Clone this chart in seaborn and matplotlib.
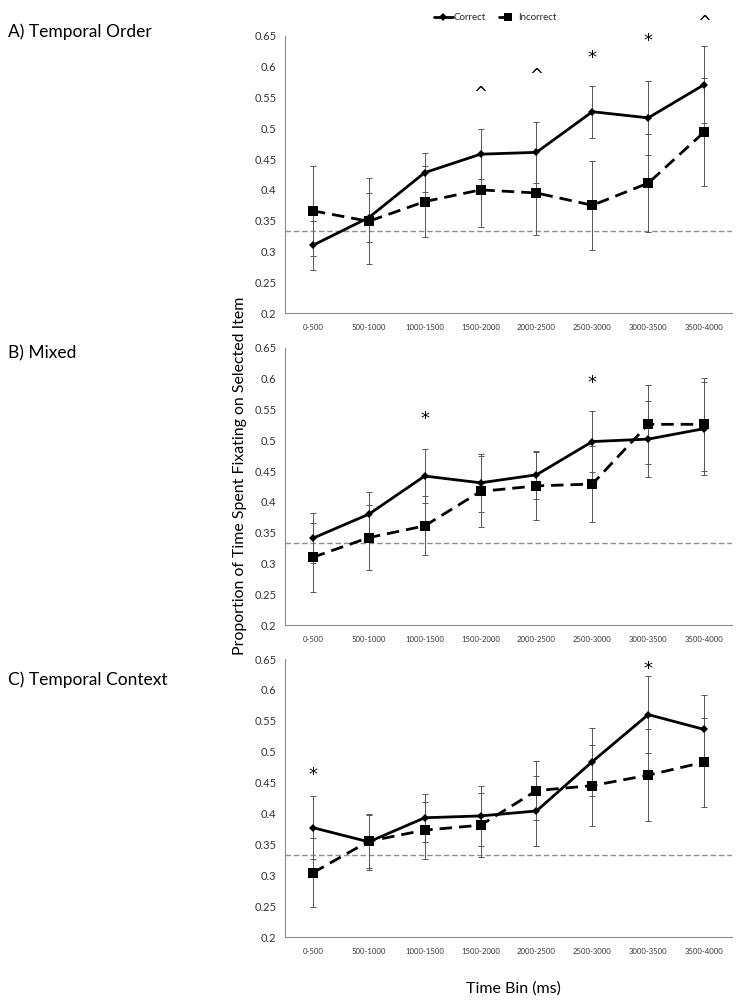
import numpy as np
import pandas as pd
import seaborn as sns
import matplotlib
matplotlib.use("Agg")
import matplotlib.pyplot as plt
from matplotlib.lines import Line2D

sns.set_theme(style="white")
plt.rcParams['font.family'] = ['Lato', 'DejaVu Sans']

bins = ["0-500", "500-1000", "1000-1500", "1500-2000", "2000-2500",
        "2500-3000", "3000-3500", "3500-4000"]
panel_titles = ["A) Temporal Order", "B) Mixed", "C) Temporal Context"]

a_correct = [0.310, 0.355, 0.428, 0.458, 0.461, 0.527, 0.517, 0.571]
a_correct_err = [0.040, 0.040, 0.032, 0.041, 0.049, 0.042, 0.060, 0.062]
a_incorrect = [0.366, 0.349, 0.381, 0.400, 0.395, 0.375, 0.411, 0.494]
a_incorrect_err = [0.073, 0.070, 0.058, 0.060, 0.068, 0.072, 0.080, 0.087]
a_marks = ["", "", "", "^", "^", "*", "*", "^"]
a_mark_y = [None, None, None, 0.556, 0.585, 0.615, 0.642, 0.671]

b_correct = [0.341, 0.380, 0.442, 0.431, 0.444, 0.498, 0.502, 0.519]
b_correct_err = [0.041, 0.036, 0.044, 0.047, 0.039, 0.050, 0.062, 0.075]
b_incorrect = [0.310, 0.342, 0.361, 0.417, 0.426, 0.429, 0.526, 0.526]
b_incorrect_err = [0.056, 0.053, 0.048, 0.057, 0.055, 0.062, 0.064, 0.076]
b_marks = ["", "", "*", "", "", "*", "", ""]
b_mark_y = [None, None, 0.535, None, None, 0.593, None, None]

c_correct = [0.377, 0.354, 0.393, 0.396, 0.404, 0.484, 0.560, 0.536]
c_correct_err = [0.051, 0.045, 0.039, 0.048, 0.057, 0.055, 0.062, 0.055]
c_incorrect = [0.304, 0.355, 0.373, 0.381, 0.437, 0.445, 0.462, 0.483]
c_incorrect_err = [0.056, 0.043, 0.046, 0.052, 0.048, 0.065, 0.074, 0.072]
c_marks = ["*", "", "", "", "", "", "*", ""]
c_mark_y = [0.462, None, None, None, None, None, 0.634, None]

chance = 0.333
yticks = [0.2, 0.25, 0.3, 0.35, 0.4, 0.45, 0.5, 0.55, 0.6, 0.65]

panels = [
    (a_correct, a_correct_err, a_incorrect, a_incorrect_err, a_marks, a_mark_y),
    (b_correct, b_correct_err, b_incorrect, b_incorrect_err, b_marks, b_mark_y),
    (c_correct, c_correct_err, c_incorrect, c_incorrect_err, c_marks, c_mark_y),
]

fig = plt.figure(figsize=(7.44, 10), dpi=100)
axes_rects = [[0.383, 0.687, 0.601, 0.277],
              [0.383, 0.375, 0.601, 0.277],
              [0.383, 0.063, 0.601, 0.278]]
title_y = [0.968, 0.647, 0.320]

pos = np.arange(len(bins))
dash_style = (0, (4.5, 2.5))
spine_col = "#8c8c8c"

for i, (rect, data) in enumerate(zip(axes_rects, panels)):
    corr, corr_err, inc, inc_err, marks, mark_y = data
    ax = fig.add_axes(rect)
    df_c = pd.DataFrame({"pos": pos, "value": corr})
    df_i = pd.DataFrame({"pos": pos, "value": inc})

    ax.axhline(chance, color="#8f8f8f", lw=1.0, ls=(0, (4, 2)), zorder=1)
    ax.errorbar(pos, corr, yerr=corr_err, fmt="none", ecolor="#555555",
                elinewidth=0.7, capsize=2.5, capthick=0.7, zorder=2)
    ax.errorbar(pos, inc, yerr=inc_err, fmt="none", ecolor="#555555",
                elinewidth=0.7, capsize=2.5, capthick=0.7, zorder=2)
    sns.lineplot(data=df_c, x="pos", y="value", ax=ax, color="black",
                 lw=2.0, marker="D", markersize=4.5, markeredgewidth=0,
                 zorder=4)
    sns.lineplot(data=df_i, x="pos", y="value", ax=ax, color="black",
                 lw=2.0, linestyle=dash_style, marker="s", markersize=7,
                 markeredgewidth=0, zorder=3)

    for j, (m, my) in enumerate(zip(marks, mark_y)):
        if m:
            ax.text(pos[j], my, m, ha="center", va="center",
                    fontsize=13 if m == "*" else 12, color="black",
                    family="DejaVu Sans", clip_on=False)

    ax.set_xlim(-0.5, len(bins) - 0.5)
    ax.set_ylim(0.2, 0.65)
    ax.set_yticks(yticks)
    ax.set_yticklabels([f"{t:g}" for t in yticks], fontsize=8, color="#333333")
    ax.set_xticks(pos)
    ax.set_xticklabels(bins, fontsize=5.6, color="#333333")
    ax.set_xticks(np.arange(-0.5, len(bins)), minor=True)
    ax.tick_params(axis="x", which="major", length=0, pad=8)
    ax.tick_params(axis="x", which="minor", length=4, color=spine_col,
                   width=0.7, direction="out")
    ax.tick_params(axis="y", length=4, color=spine_col, width=0.7,
                   direction="out", pad=2)
    ax.set_xlabel("")
    ax.set_ylabel("")
    for s in ["top", "right"]:
        ax.spines[s].set_visible(False)
    for s in ["left", "bottom"]:
        ax.spines[s].set_color(spine_col)
        ax.spines[s].set_linewidth(0.8)
    ax.grid(False)

    fig.text(0.011, title_y[i], panel_titles[i], fontsize=12.5,
             ha="left", va="center", color="black")

    if i == 0:
        handles = [Line2D([0], [0], color="black", lw=2, marker="D",
                          markersize=4, markeredgewidth=0),
                   Line2D([0], [0], color="black", lw=2, marker="s",
                          markersize=6, markeredgewidth=0, ls=dash_style)]
        ax.legend(handles, ["Correct", "Incorrect"], loc="center",
                  bbox_to_anchor=(0.47, 1.065), ncol=2, frameon=False,
                  fontsize=7, handlelength=2.0, handletextpad=0.1,
                  columnspacing=1.2)

fig.text(0.322, 0.524, "Proportion of Time Spent Fixating on Selected Item",
         rotation=90, ha="center", va="center", fontsize=11.4, color="black")
fig.text(0.690, 0.011, "Time Bin (ms)", ha="center", va="center",
         fontsize=11.5, color="black")

fig.savefig("out.png", dpi=100)
